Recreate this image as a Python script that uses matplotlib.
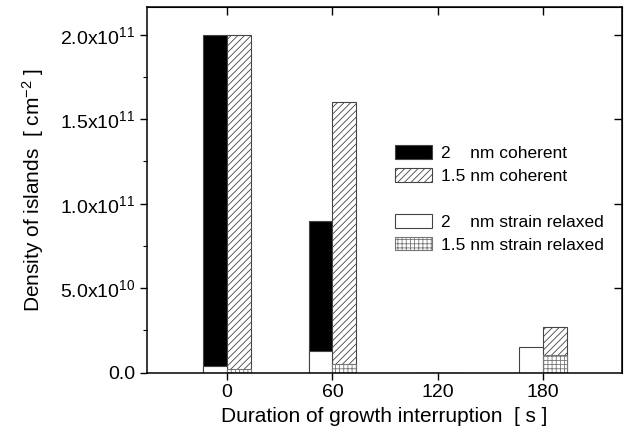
import numpy as np
import matplotlib.pyplot as plt
from matplotlib.patches import Patch
from matplotlib.ticker import FixedLocator, FuncFormatter

plt.rcParams['font.family'] = ['Liberation Sans', 'DejaVu Sans']
plt.rcParams['mathtext.default'] = 'regular'
plt.rcParams['hatch.linewidth'] = 0.6

# island densities (cm^-2) vs growth interruption time (s)
durations = [0, 60, 120, 180]
coherent_2nm = [2.0e11, 9.0e10, 0.0, 0.0]
coherent_15nm = [2.0e11, 1.6e11, 0.0, 2.72e10]
relaxed_2nm = [4.0e9, 1.3e10, 0.0, 1.52e10]
relaxed_15nm = [2.0e9, 5.0e9, 0.0, 1.03e10]

labels = ['2    nm coherent', '1.5 nm coherent',
          '2    nm strain relaxed', '1.5 nm strain relaxed']

x = np.array(durations, dtype=float)
w = 13.5
edge = '#444444'

fig = plt.figure(figsize=(6.24, 4.36), dpi=100)
ax = fig.add_axes([0.2356, 0.1452, 0.7612, 0.8394])

ax.bar(x - w / 2, coherent_2nm, w, color='black', edgecolor=edge, lw=0.8)
ax.bar(x + w / 2, coherent_15nm, w, color='white', edgecolor=edge, lw=0.8,
       hatch='/////')
ax.bar(x - w / 2, relaxed_2nm, w, color='white', edgecolor=edge, lw=0.8)
ax.bar(x + w / 2, relaxed_15nm, w, color='white', edgecolor='#777777', lw=0.8,
       hatch='++++')

ax.set_xlim(-45.6, 225)
ax.set_ylim(0, 2.166e11)

ax.xaxis.set_major_locator(FixedLocator(durations))
ax.yaxis.set_major_locator(FixedLocator([0, 5e10, 1e11, 1.5e11, 2e11]))
ax.yaxis.set_minor_locator(FixedLocator([2.5e10, 7.5e10, 1.25e11, 1.75e11]))


def sci(v, pos):
    if v <= 0:
        return '0.0'
    e = int(np.floor(np.log10(v) + 1e-9))
    return '{:.1f}x10$^{{{}}}$'.format(v / 10 ** e, e)


ax.yaxis.set_major_formatter(FuncFormatter(sci))
ax.tick_params(axis='both', which='major', direction='out', length=5,
               width=1, labelsize=14)
ax.tick_params(axis='y', which='minor', direction='out', length=3, width=0.8)

# mirrored ticks pointing inward on top and right
top = ax.secondary_xaxis('top')
top.xaxis.set_major_locator(FixedLocator(durations))
top.tick_params(direction='in', length=6, width=1, labeltop=False)
right = ax.secondary_yaxis('right')
right.yaxis.set_major_locator(FixedLocator([5e10, 1e11, 1.5e11, 2e11]))
right.tick_params(direction='in', length=6, width=1, labelright=False)

for s in ax.spines.values():
    s.set_linewidth(1.1)

ax.set_xlabel('Duration of growth interruption  [ s ]', fontsize=15,
              labelpad=4)
ax.set_ylabel('Density of islands  [ cm$^{-2}$ ]', fontsize=15, labelpad=10)

handles = [
    Patch(facecolor='black', edgecolor=edge, lw=0.8),
    Patch(facecolor='white', edgecolor=edge, lw=0.8, hatch='/////'),
    Patch(facecolor='none', edgecolor='none'),
    Patch(facecolor='white', edgecolor=edge, lw=0.8),
    Patch(facecolor='white', edgecolor='#777777', lw=0.8, hatch='++++'),
]
ax.legend(handles, [labels[0], labels[1], '', labels[2], labels[3]],
          loc='upper left', bbox_to_anchor=(0.523, 0.622), frameon=False,
          fontsize=12.5, handlelength=2.1, handleheight=0.85,
          handletextpad=0.5, labelspacing=0.4, borderpad=0,
          borderaxespad=0)

fig.savefig('out.png', dpi=100)
